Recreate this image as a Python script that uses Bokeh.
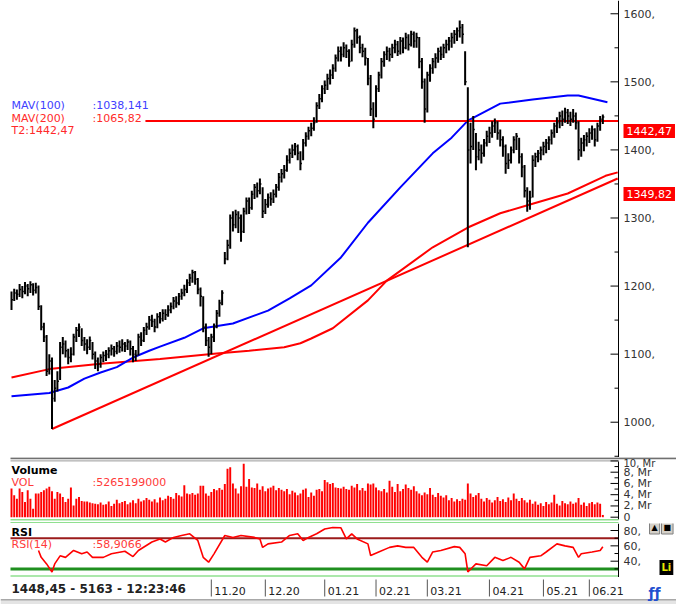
from bokeh.plotting import figure
from bokeh.layouts import column
from bokeh.models import Range1d, Label, ColumnDataSource
from bokeh.core.properties import value
from bokeh.embed import file_html
from bokeh.resources import INLINE

# ---------------- data ----------------
close = [1180, 1190, 1188, 1195, 1192, 1200, 1196, 1202, 1194, 1198,
         1170, 1140, 1125, 1075, 1090, 1035, 1050, 1060, 1110, 1115,
         1105, 1095, 1100, 1125, 1135, 1140, 1120, 1115, 1110, 1120,
         1100, 1090, 1085, 1095, 1098, 1100, 1105, 1108, 1104, 1112,
         1110, 1115, 1112, 1118, 1108, 1100, 1098, 1125, 1120, 1135,
         1140, 1150, 1148, 1140, 1155, 1152, 1160, 1158, 1165, 1170,
         1178, 1175, 1185, 1190, 1195, 1205, 1212, 1220, 1210, 1195,
         1185, 1140, 1120, 1110, 1125, 1140, 1160, 1175, 1190, 1240,
         1260, 1300, 1290, 1305, 1300, 1280, 1310, 1325, 1315, 1335,
         1345, 1340, 1350, 1310, 1320, 1330, 1328, 1335, 1345, 1360,
         1365, 1370, 1385, 1395, 1400, 1405, 1395, 1380, 1410, 1420,
         1428, 1432, 1440, 1465, 1475, 1490, 1495, 1505, 1510, 1520,
         1535, 1545, 1540, 1550, 1545, 1530, 1555, 1575, 1565, 1550,
         1545, 1535, 1505, 1460, 1445, 1490, 1510, 1530, 1540, 1545,
         1540, 1550, 1555, 1545, 1560, 1550, 1565, 1555, 1570, 1560,
         1565, 1530, 1500, 1460, 1510, 1520, 1530, 1535, 1545, 1540,
         1550, 1555, 1560, 1565, 1570, 1575, 1580, 1570, 1500, 1400,
         1405, 1430, 1390, 1400, 1395, 1410, 1420, 1425, 1435, 1440,
         1425, 1415, 1405, 1380, 1385, 1400, 1415, 1420, 1390, 1375,
         1340, 1325, 1330, 1385, 1390, 1395, 1400, 1405, 1410, 1415,
         1425, 1435, 1440, 1450, 1445, 1455, 1450, 1445, 1450, 1440,
         1400, 1410, 1415, 1420, 1425, 1430, 1415, 1435, 1445, 1448.45]

high = [1192, 1196, 1195, 1203, 1200, 1206, 1203, 1207, 1204, 1205,
        1201, 1172, 1146, 1128, 1100, 1095, 1062, 1075, 1118, 1125,
        1120, 1108, 1110, 1130, 1140, 1145, 1138, 1125, 1122, 1126,
        1118, 1104, 1095, 1100, 1104, 1106, 1110, 1114, 1112, 1118,
        1120, 1122, 1118, 1122, 1120, 1112, 1106, 1130, 1132, 1140,
        1146, 1156, 1158, 1152, 1160, 1162, 1166, 1166, 1172, 1176,
        1184, 1185, 1190, 1196, 1202, 1210, 1218, 1224, 1222, 1212,
        1198, 1185, 1145, 1125, 1130, 1145, 1165, 1180, 1194, 1250,
        1268, 1305, 1310, 1312, 1310, 1305, 1315, 1330, 1330, 1340,
        1350, 1352, 1358, 1345, 1328, 1336, 1338, 1342, 1350, 1366,
        1372, 1378, 1392, 1402, 1408, 1410, 1408, 1398, 1416, 1426,
        1434, 1440, 1448, 1470, 1482, 1495, 1502, 1512, 1518, 1526,
        1540, 1552, 1552, 1558, 1555, 1548, 1562, 1580, 1578, 1568,
        1556, 1550, 1535, 1510, 1470, 1495, 1515, 1535, 1545, 1552,
        1550, 1556, 1562, 1560, 1566, 1565, 1572, 1570, 1575, 1574,
        1572, 1566, 1535, 1505, 1515, 1526, 1535, 1542, 1550, 1552,
        1556, 1562, 1566, 1572, 1576, 1580, 1590, 1585, 1545, 1492,
        1440, 1450, 1425, 1412, 1408, 1416, 1428, 1434, 1442, 1446,
        1442, 1430, 1420, 1408, 1395, 1405, 1420, 1425, 1418, 1395,
        1378, 1345, 1340, 1392, 1396, 1400, 1405, 1412, 1416, 1420,
        1430, 1440, 1448, 1456, 1458, 1462, 1460, 1456, 1460, 1455,
        1442, 1418, 1422, 1426, 1432, 1436, 1432, 1440, 1450, 1452]

low = [1165, 1178, 1180, 1184, 1182, 1188, 1185, 1190, 1186, 1189,
       1165, 1135, 1118, 1068, 1070, 990, 1030, 1045, 1062, 1100,
       1095, 1085, 1088, 1098, 1118, 1125, 1112, 1105, 1100, 1106,
       1092, 1078, 1075, 1080, 1088, 1090, 1094, 1098, 1096, 1100,
       1102, 1104, 1103, 1106, 1098, 1088, 1090, 1098, 1112, 1118,
       1128, 1136, 1140, 1132, 1138, 1145, 1148, 1150, 1155, 1160,
       1166, 1168, 1172, 1180, 1185, 1190, 1200, 1205, 1202, 1188,
       1170, 1132, 1112, 1096, 1100, 1118, 1138, 1155, 1172, 1232,
       1238, 1255, 1280, 1285, 1278, 1265, 1278, 1305, 1306, 1312,
       1328, 1330, 1335, 1300, 1306, 1315, 1318, 1322, 1330, 1340,
       1352, 1358, 1368, 1380, 1388, 1392, 1385, 1370, 1385, 1405,
       1415, 1420, 1428, 1440, 1460, 1470, 1482, 1488, 1496, 1504,
       1515, 1530, 1530, 1536, 1535, 1522, 1530, 1550, 1556, 1542,
       1536, 1524, 1495, 1450, 1432, 1448, 1485, 1505, 1522, 1532,
       1530, 1535, 1542, 1538, 1540, 1542, 1548, 1546, 1552, 1550,
       1550, 1520, 1490, 1440, 1455, 1500, 1512, 1520, 1528, 1532,
       1535, 1542, 1546, 1550, 1556, 1560, 1565, 1556, 1495, 1257,
       1380, 1400, 1370, 1385, 1380, 1390, 1405, 1410, 1418, 1425,
       1415, 1405, 1390, 1365, 1372, 1380, 1395, 1400, 1380, 1360,
       1330, 1309, 1312, 1330, 1375, 1382, 1385, 1392, 1395, 1400,
       1408, 1418, 1425, 1432, 1435, 1440, 1438, 1435, 1440, 1430,
       1385, 1390, 1398, 1405, 1410, 1415, 1405, 1412, 1428, 1438]

volume_mr = [5.1, 3.9, 3.3, 5.1, 4.5, 2.7, 4.8, 3.3, 1.5, 4.2,
             4.2, 4.5, 4.8, 5.1, 5.4, 4.6, 3.3, 4.5, 4.2, 3.6,
             2.7, 3.3, 5.3, 2.1, 3.3, 3.6, 2.9, 2.8, 2.8, 2.6,
             2.5, 2.4, 2.3, 2.6, 2.2, 2.3, 2.8, 2.0, 2.4, 3.1,
             2.5, 2.7, 2.9, 2.3, 2.6, 3.0, 2.5, 3.3, 2.8, 3.0,
             3.4, 3.1, 2.8, 3.2, 2.6, 3.5, 3.0, 3.3, 3.8, 3.6,
             3.3, 4.3, 3.9, 3.7, 5.7, 4.2, 4.1, 4.3, 4.0, 4.2,
             5.6, 5.6, 4.2, 3.8, 4.5, 5.0, 4.8, 5.2, 4.9, 5.9,
             8.6, 8.9, 6.0, 5.1, 4.2, 5.5, 9.5, 5.4, 6.8, 5.3,
             5.2, 6.0, 4.9, 5.5, 4.6, 5.1, 5.3, 5.6, 4.8, 5.2,
             4.9, 4.6, 5.0, 4.1, 4.7, 4.4, 3.9, 4.2, 4.9, 5.1,
             3.6, 4.4, 3.8, 4.9, 5.0, 4.6, 6.6, 6.2, 5.9, 6.1,
             5.3, 5.2, 5.1, 5.4, 5.0, 4.9, 5.6, 5.3, 5.9, 4.8,
             5.2, 4.7, 6.0, 5.8, 6.0, 5.3, 4.8, 4.6, 5.0, 4.4,
             6.5, 5.4, 4.5, 5.9, 4.6, 5.0, 5.8, 5.2, 4.9, 5.5,
             4.6, 4.2, 3.9, 4.4, 4.1, 5.2, 4.0, 3.6, 4.3, 3.8,
             3.5, 3.9, 3.0, 3.4, 2.8, 3.2, 2.9, 3.3, 3.1, 6.0,
             4.2, 3.6, 3.9, 4.3, 3.3, 2.8, 3.4, 3.1, 2.6, 3.0,
             3.6, 2.9, 3.2, 2.7, 3.5, 3.0, 4.2, 3.3, 2.9, 3.4,
             3.0, 2.6, 3.1, 2.4, 2.8, 2.2, 2.5, 2.0, 2.7, 2.3,
             2.6, 4.0, 2.4, 2.1, 2.9, 2.5, 2.3, 2.8, 2.4, 2.6,
             3.4, 2.2, 2.6, 2.0, 2.5, 2.7, 2.3, 2.6, 2.4, 0.4]

mav100_idx = [0, 14, 21, 27, 33, 39, 45, 51, 55, 64, 71, 82, 95, 103, 111, 122,
              132, 144, 156, 163, 169, 181, 193, 206, 210, 220.7]
mav100_val = [1038.1, 1043, 1051, 1064, 1073, 1081, 1095, 1105, 1111, 1124, 1138,
              1145, 1164, 1182, 1201, 1242, 1293, 1345, 1395, 1418, 1443, 1468,
              1474, 1480, 1480, 1470]

mav200_idx = [0, 14, 33, 55, 76, 88, 101, 107, 111, 119, 132, 139, 156, 169, 181,
              193, 206, 220, 224.5]
mav200_val = [1065.8, 1078, 1086, 1093, 1101, 1105, 1110, 1116, 1123, 1138, 1179,
              1208, 1257, 1286, 1307, 1321, 1336, 1362, 1367]

trend_idx = [15, 224.5]
trend_val = [990.0, 1358.0]
trend_last = 1349.82

t2_idx = [49.6, 224.8]
t2_level = 1442.47

rsi_idx = [10, 11, 13, 15, 16, 18, 20, 23, 26, 28,
           30, 34, 37, 42, 45, 47, 52, 55, 57, 60,
           63, 66, 69, 71, 73, 75, 79, 82, 85, 90,
           92, 93, 95, 100, 103, 106, 108, 110, 113, 116,
           119, 122, 124, 126, 128, 132, 133, 136, 140, 143,
           146, 149, 152, 154, 156, 159, 164, 166, 168, 169,
           172, 176, 179, 182, 185, 188, 190, 192, 196, 198,
           202, 205, 208, 210, 211, 215, 218, 219]
rsi_val = [54, 45, 36.5, 26, 36.5, 47, 45, 54, 49.6, 52,
           45, 45, 49.6, 53, 46, 54, 65, 69, 65, 71,
           73.5, 75.7, 67, 45, 38.7, 49.6, 73.5, 71, 73.5, 71,
           69, 58, 62.6, 65, 73.5, 75.7, 67, 71, 75.7, 82,
           84, 83.5, 69, 75.7, 69, 62.6, 47.4, 52, 58, 60,
           58, 58, 45, 38.7, 52, 54, 59, 58, 49.6, 26,
           36.5, 34, 45, 41, 45, 38.7, 30, 45, 47, 52,
           62.6, 60, 58, 45, 49.6, 52, 54, 58.9]
rsi_upper = 70
rsi_lower = 30

month_idx = [74, 94, 116, 135, 154, 177, 197, 214]
month_labels = ["11.20", "12.20", "01.21", "02.21", "03.21", "04.21", "05.21", "06.21"]

price_ticks = [1000, 1100, 1200, 1300, 1400, 1500, 1600]
price_tick_labels = ["1000,", "1100,", "1200,", "1300,", "1400,", "1500,", "1600,"]
price_minor = [950, 1050, 1150, 1250, 1350, 1450, 1550]
vol_ticks = [0, 2, 4, 6, 8]
vol_tick_labels = ["0", "2, Mr", "4, Mr", "6, Mr", "8, Mr"]
vol_top_tick = 10
vol_top_label = "10, Mr"
vol_minor = [1, 3, 5, 7, 9]
rsi_ticks = [40, 60, 80]
rsi_tick_labels = ["40,", "60,", "80,"]
rsi_minor = [30, 50, 70]

mav100_text = ":1038,141"
mav200_text = ":1065,82"
t2_text = "T2:1442,47"
vol_text = ":5265199000"
rsi_text = ":58,9066"
status_text = "1448,45 - 5163 - 12:23:46"

# ---------------- layout constants ----------------
FONT = "DejaVu Sans"
X0, X1 = -0.37, 224.8              # chart area: pixels 10..618
PXB = 608 / (X1 - X0)              # pixels per bar
XL, XR = X0 - 10 / PXB, X1 + 58 / PXB   # whole canvas width
xr = Range1d(XL, XR)

P_TOP, P_UPX, P_H = 1619.5, 1.469, 457            # rows 0..457
P_BOT = P_TOP - P_H * P_UPX
V_UPX, V_H = 1 / 5.625, 66                         # rows 457..523
V_TOP = 59.7 * V_UPX
V_BOT = V_TOP - V_H * V_UPX
R_UPX, R_H = 1 / 0.7675, 54                        # rows 523..577
R_TOP = 80 + 7 * R_UPX
R_BOT = R_TOP - R_H * R_UPX


def panel(h, y0, y1):
    p = figure(width=676, height=h, x_range=xr, y_range=Range1d(y0, y1),
               output_backend="svg", toolbar_location=None,
               x_axis_location=None, y_axis_location=None, min_border=0)
    p.grid.visible = False
    p.outline_line_color = None
    p.background_fill_color = "white"
    p.border_fill_color = "white"
    return p


def draw_axis(p, ticks, labels, minor, y0, y1, size="11px"):
    n, m = len(ticks), len(minor)
    p.segment(x0=[X1], y0=[y0], x1=[X1], y1=[y1], line_color="black", line_width=1)
    p.segment(x0=[X1 - 8 / PXB] * n, y0=ticks, x1=[X1] * n, y1=ticks,
              line_color="black", line_width=1)
    p.segment(x0=[X1 - 4 / PXB] * m, y0=minor, x1=[X1] * m, y1=minor,
              line_color="black", line_width=1)
    p.text(x=[X1] * n, y=ticks, text=labels, x_offset=5,
           text_font=value(FONT), text_font_size=size, text_color="#333333",
           text_baseline="middle", text_align="left")


def hline(p, y, color, lw, x0=X0, x1=X1):
    p.segment(x0=[x0], x1=[x1], y0=[y], y1=[y], line_color=color, line_width=lw)


def lab(p, x, y, text, color, size="11px", style="normal", xo=0, bg=None, pad=0,
        border=None):
    kw = dict(x=x, y=y, text=text, text_font=FONT, text_font_size=size,
              text_color=color, text_font_style=style, text_baseline="middle",
              text_align="left", x_offset=xo)
    if bg is not None:
        kw["background_fill_color"] = bg
        kw["padding"] = pad
    if border is not None:
        kw["border_line_color"] = border
    p.add_layout(Label(**kw))


# ---------------- price panel ----------------
p = panel(P_H, P_BOT, P_TOP)

idx = list(range(len(close)))
src = ColumnDataSource(dict(idx=idx, idx_r=[i + 0.55 for i in idx],
                            high=high, low=low, close=close))

p.line(mav200_idx, mav200_val, line_color="#ff0000", line_width=2)
p.line(trend_idx, trend_val, line_color="#ff0000", line_width=2)
p.line(mav100_idx, mav100_val, line_color="#0000ff", line_width=2)
p.line(t2_idx, [t2_level, t2_level], line_color="#ff0000", line_width=2)
p.segment(x0="idx", y0="low", x1="idx", y1="high", source=src,
          line_color="black", line_width=2)
p.segment(x0="idx", y0="close", x1="idx_r", y1="close", source=src,
          line_color="black", line_width=1.5)

draw_axis(p, price_ticks, price_tick_labels, price_minor, P_BOT, P_TOP)

lab(p, X0, P_TOP - 105 * P_UPX, "MAV(100)", "#4040ff", xo=1)
lab(p, X0, P_TOP - 105 * P_UPX, mav100_text, "#4040ff", xo=82)
lab(p, X0, P_TOP - 117.7 * P_UPX, "MAV(200)", "#ff2a2a", xo=1)
lab(p, X0, P_TOP - 117.7 * P_UPX, mav200_text, "#ff2a2a", xo=82)
lab(p, X0, P_TOP - 130 * P_UPX, t2_text, "#ff2a2a", xo=1)

lab(p, X1, t2_level - 10 * P_UPX, f"{t2_level:.2f}".replace(".", ","), "white",
    xo=5, bg="#ff0000", pad=3)
lab(p, X1, trend_last - 10 * P_UPX, f"{trend_last:.2f}".replace(".", ","), "white",
    xo=5, bg="#ff0000", pad=3)

# ---------------- volume panel ----------------
v = panel(V_H, V_BOT, V_TOP)
hline(v, V_TOP - 0.8 * V_UPX, "#707070", 2, X0, XR)
hline(v, V_TOP - 3.4 * V_UPX, "#9a9a9a", 1)
v.vbar(x=idx, top=volume_mr, bottom=0, width=0.72, fill_color="#ff0000",
       line_color=None)
draw_axis(v, vol_ticks, vol_tick_labels, vol_minor,
          V_TOP - 62 * V_UPX, V_TOP - 4 * V_UPX)
v.segment(x0=[X1 - 8 / PXB], y0=[vol_top_tick], x1=[X1], y1=[vol_top_tick],
          line_color="black", line_width=1)
v.text(x=[X1], y=[vol_top_tick], text=[vol_top_label], x_offset=5, y_offset=3,
       text_font=value(FONT), text_font_size="10px", text_color="#333333",
       text_baseline="middle", text_align="left")
hline(v, V_TOP - 62.3 * V_UPX, "#8fe08f", 1.5)
hline(v, V_TOP - 65.2 * V_UPX, "#8fe08f", 1.5)
lab(v, X0, V_TOP - 13 * V_UPX, "Volume", "black", style="bold", xo=1)
lab(v, X0, V_TOP - 24.5 * V_UPX, "VOL", "#ff3a3a", xo=1)
lab(v, X0, V_TOP - 24.5 * V_UPX, vol_text, "#ff3a3a", xo=82)

# ---------------- RSI panel ----------------
r = panel(R_H, R_BOT, R_TOP)
hline(r, rsi_upper, "#9b1b1b", 2)
hline(r, rsi_lower, "#1f8f1f", 3)
hline(r, R_TOP - 52.5 * R_UPX, "#8fe08f", 1.5)
r.line(rsi_idx, rsi_val, line_color="#ff0000", line_width=1.6)
draw_axis(r, rsi_ticks, rsi_tick_labels, rsi_minor, R_BOT, R_TOP)
lab(r, X0, R_TOP - 8.5 * R_UPX, "RSI", "black", style="bold", xo=1)
lab(r, X0, R_TOP - 21 * R_UPX, "RSI(14)", "#ff3a3a", xo=1)
lab(r, X0, R_TOP - 21 * R_UPX, rsi_text, "#ff3a3a", xo=82)
# small UI buttons at the right
lab(r, X1, R_TOP - 4 * R_UPX, "\u25b2", "black", size="8px", xo=31, bg="#d4d0c8",
    pad=2, border="#808080")
lab(r, X1, R_TOP - 4 * R_UPX, "\u25a0", "black", size="8px", xo=43, bg="#d4d0c8",
    pad=2, border="#808080")
lab(r, X1, R_TOP - 44 * R_UPX, "Li", "#e8e800", size="10px", style="bold", xo=41,
    bg="black", pad=2)

# ---------------- date strip ----------------
s = figure(width=676, height=27, x_range=xr, y_range=Range1d(0, 27),
           output_backend="svg", toolbar_location=None,
           x_axis_location=None, y_axis_location=None, min_border=0)
s.grid.visible = False
s.outline_line_color = None
s.background_fill_color = "white"
s.border_fill_color = "white"
s.quad(left=XL, right=XR, bottom=0, top=4.5, fill_color="#e4e4e4", line_color=None)
hline(s, 4.8, "#a8a8a8", 1.5, XL, XR)
s.segment(x0=month_idx, y0=[8] * len(month_idx), x1=month_idx,
          y1=[25] * len(month_idx), line_color="#555555", line_width=1)
s.text(x=month_idx, y=[13.5] * len(month_idx), text=month_labels, x_offset=3,
       text_font=value(FONT), text_font_size="11px", text_color="#222222",
       text_baseline="middle", text_align="left")
s.text(x=[X0], y=[15.5], text=[status_text], x_offset=1,
       text_font=value(FONT), text_font_size="12px", text_font_style="bold",
       text_color="#222222", text_baseline="middle", text_align="left")
s.text(x=[X1], y=[12], text=["\u0192\u0192"], x_offset=30,
       text_font=value(FONT), text_font_size="14px", text_font_style="bold",
       text_color="#1f4fd0", text_baseline="middle", text_align="left")

layout = column(p, v, r, s, spacing=0)
open("out.html", "w").write(file_html(layout, INLINE))
